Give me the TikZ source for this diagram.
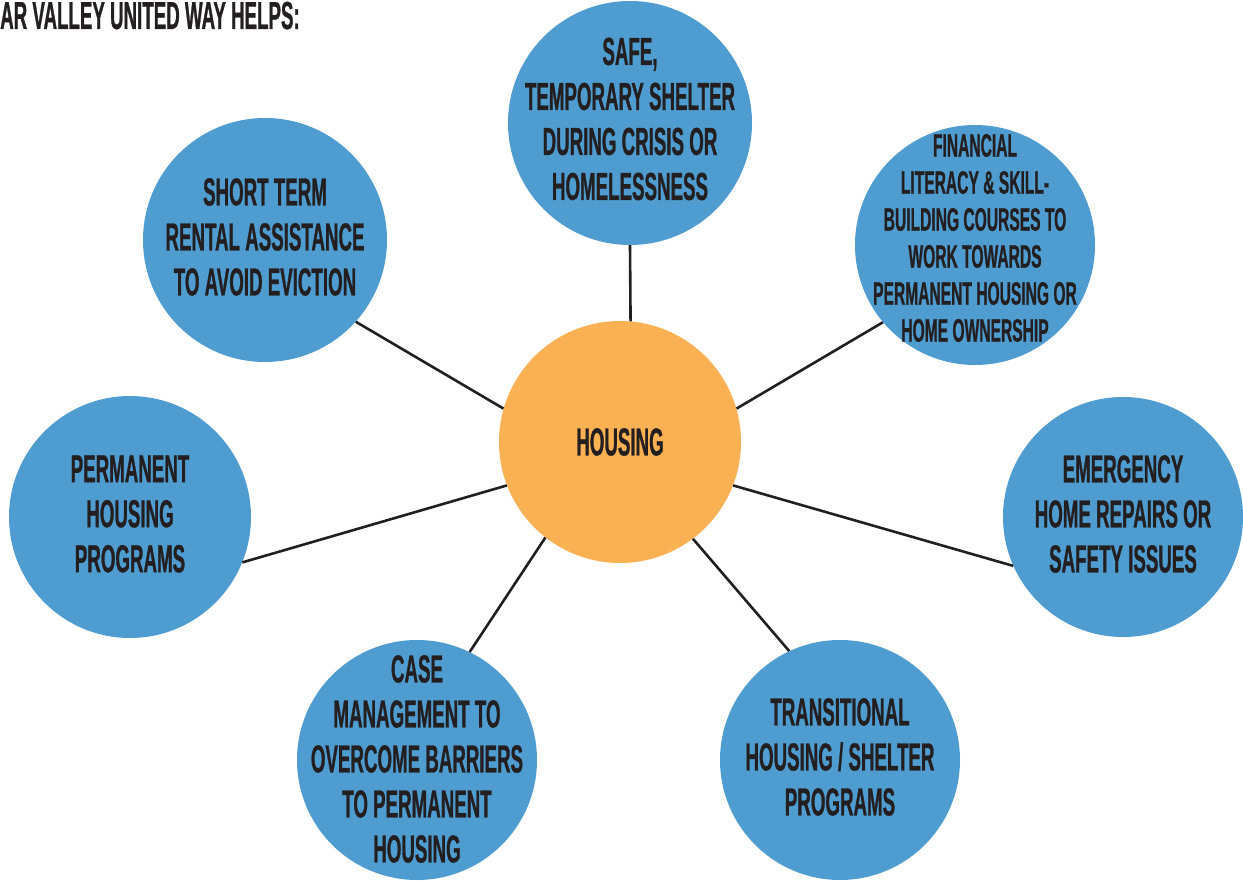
\documentclass[tikz,border=0pt]{standalone}
\usepackage{fontspec}
\newfontfamily\gothicfont[FakeStretch=0.48, BoldFeatures={FakeBold=0.7}]{Liberation Sans}
\definecolor{bubbleblue}{HTML}{4F9DD0}
\definecolor{huborange}{HTML}{F9B153}
\definecolor{inkblack}{HTML}{231F20}

\begin{document}
\begin{tikzpicture}[x=1pt, y=-1pt,
	bubble/.style={circle, fill=bubbleblue, inner sep=0pt, minimum size=240pt},
	bubbletext/.style={align=center, text=inkblack, inner sep=0pt,
		font=\gothicfont\bfseries\fontsize{39}{45}\selectfont},
	smalltext/.style={bubbletext, font=\gothicfont\bfseries\fontsize{32.5}{37}\selectfont},
	link/.style={draw=inkblack, line width=2.6pt}]
	\useasboundingbox (0,0) rectangle (1243,882);
	% title
	\node[bubbletext, anchor=base west] (title) at (0,29) {AR VALLEY UNITED WAY HELPS:};
	% hub
	\node[bubble, fill=huborange, minimum size=242pt, label={[bubbletext]center:HOUSING}] (housing) at (620,442) {};
	% outer bubbles
	\node[bubble, minimum size=244pt, label={[bubbletext, yshift=4pt]center:SAFE,\\TEMPORARY SHELTER\\DURING CRISIS OR\\HOMELESSNESS}] (shelter) at (630,123) {};
	\node[bubble, minimum size=244pt, label={[bubbletext, yshift=3pt]center:SHORT TERM\\RENTAL ASSISTANCE\\TO AVOID EVICTION}] (rental) at (265,240) {};
	\node[bubble, label={[smalltext, yshift=7pt]center:FINANCIAL\\LITERACY \& SKILL-\\BUILDING COURSES TO\\WORK TOWARDS\\PERMANENT HOUSING OR\\HOME OWNERSHIP}] (finance) at (975,245) {};
	\node[bubble, minimum size=242pt, label={[bubbletext, yshift=3pt]center:PERMANENT\\HOUSING\\PROGRAMS}] (permanent) at (130,517) {};
	\node[bubble, label={[bubbletext, yshift=3pt]center:EMERGENCY\\HOME REPAIRS OR\\SAFETY ISSUES}] (repairs) at (1123,517) {};
	\node[bubble, label={[bubbletext, yshift=1pt]center:CASE\\MANAGEMENT TO\\OVERCOME BARRIERS\\TO PERMANENT\\HOUSING}] (casemgmt) at (417,760) {};
	\node[bubble, label={[bubbletext, yshift=3pt]center:TRANSITIONAL\\HOUSING / SHELTER\\PROGRAMS}] (transition) at (840,760) {};
	% spokes
	\draw[link] (housing.85) -- (shelter.270);
	\draw[link] (housing.164.7) -- (rental.318);
	\draw[link] (housing.16.8) -- (finance.220);
	\draw[link] (housing.201.7) -- (permanent.338);
	\draw[link] (housing.339.5) -- (repairs.204.6);
	\draw[link] (housing.232.6) -- (casemgmt.64.3);
	\draw[link] (housing.307.4) -- (transition.115.3);
\end{tikzpicture}
\end{document}
